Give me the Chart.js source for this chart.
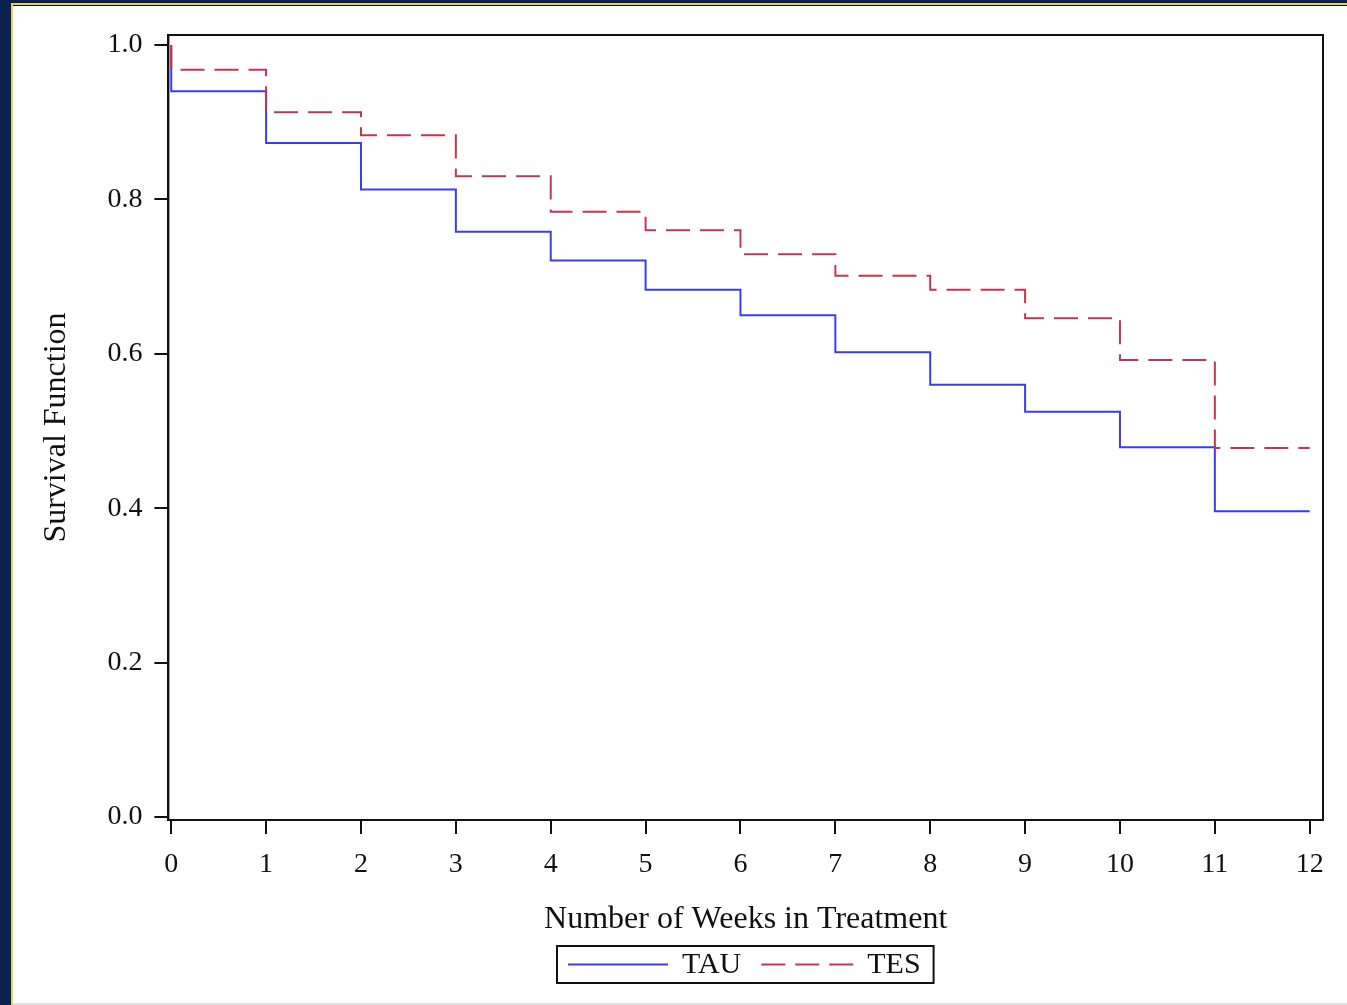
<!DOCTYPE html>
<html lang="en">
<head>
<meta charset="UTF-8">
<title>Survival Function</title>
<script src="https://cdn.jsdelivr.net/npm/chart.js@4.4.1/dist/chart.umd.min.js"></script>
<style>
    html, body { margin: 0; padding: 0; background: #fff; }
    #wrap { position: relative; width: 1347px; height: 1005px; overflow: hidden; }
    #chart-box { position: absolute; left: 0; top: 0; width: 1347px; height: 1005px; }
    .deco { position: absolute; z-index: 2; }
</style>
</head>
<body>
<div id="wrap">
    <div id="chart-box"><canvas id="surv"></canvas></div>
    <div class="deco" style="left:0;top:0;width:11px;height:1005px;background:#0b2150"></div>
    <div class="deco" style="left:11px;top:0;width:2px;height:1005px;background:#e6cf5a"></div>
    <div class="deco" style="left:0;top:0;width:1347px;height:3px;background:#0b2150"></div>
    <div class="deco" style="left:11px;top:3px;width:1336px;height:2px;background:#e6cf5a"></div>
    <div class="deco" style="left:13px;top:5px;width:1334px;height:1px;background:#111"></div>
    <div class="deco" style="left:13px;top:1003px;width:1334px;height:2px;background:#e2e2e2"></div>
</div>
<script>
    // survival estimate for each week interval [w, w+1)
    const weeks = [0, 1, 2, 3, 4, 5, 6, 7, 8, 9, 10, 11, 12];
    const tauSurv = [0.940, 0.873, 0.813, 0.758, 0.721, 0.683, 0.650, 0.602, 0.560, 0.525, 0.479, 0.396];
    const tesSurv = [0.968, 0.913, 0.883, 0.830, 0.784, 0.760, 0.729, 0.701, 0.683, 0.646, 0.592, 0.478];
    const yTicks = [0.0, 0.2, 0.4, 0.6, 0.8, 1.0];

    function stepPoints(vals) {
        const pts = [{x: weeks[0], y: 1.0}];
        vals.forEach((v, i) => pts.push({x: weeks[i], y: v}));
        pts.push({x: weeks[weeks.length - 1], y: vals[vals.length - 1]});
        return pts;
    }

    const serif = "'Liberation Serif', 'DejaVu Serif', serif";

    // box round the plot area
    const framePlugin = {
        id: 'frame',
        afterDraw(chart) {
            const a = chart.chartArea, ctx = chart.ctx;
            ctx.save();
            ctx.strokeStyle = '#111';
            ctx.lineWidth = 2;
            ctx.strokeRect(a.left, a.top, a.right - a.left, a.bottom - a.top);
            ctx.restore();
        }
    };

    // SAS style legend with a frame under the x axis title
    const legendPlugin = {
        id: 'boxLegend',
        afterDraw(chart) {
            const ctx = chart.ctx, a = chart.chartArea;
            ctx.save();
            ctx.font = '30px ' + serif;
            const sets = chart.data.datasets;
            const lineLen = [100, 92];
            const padL = 11, padR = 13, gapLine = 14, gapItem = 20;
            let total = padL + padR;
            sets.forEach((ds, i) => {
                total += lineLen[i] + gapLine + ctx.measureText(ds.label).width;
                if (i < sets.length - 1) total += gapItem;
            });
            const cx = (a.left + a.right) / 2;
            const top = 946, h = 37, midY = top + h / 2;
            let x = Math.round(cx - total / 2);
            ctx.lineWidth = 2;
            ctx.strokeStyle = '#111';
            ctx.strokeRect(x, top, total, h);
            x += padL;
            sets.forEach((ds, i) => {
                ctx.beginPath();
                ctx.strokeStyle = ds.borderColor;
                ctx.lineWidth = 2;
                ctx.setLineDash(ds.borderDash || []);
                ctx.moveTo(x, midY);
                ctx.lineTo(x + lineLen[i], midY);
                ctx.stroke();
                ctx.setLineDash([]);
                x += lineLen[i] + gapLine;
                ctx.fillStyle = '#111';
                ctx.textBaseline = 'middle';
                ctx.fillText(ds.label, x, midY + 1);
                x += ctx.measureText(ds.label).width + gapItem;
            });
            ctx.restore();
        }
    };

    new Chart(document.getElementById('surv'), {
        type: 'line',
        data: {
            datasets: [{
                label: 'TAU',
                data: stepPoints(tauSurv),
                borderColor: '#3c3cf0',
                borderWidth: 2,
                stepped: 'before',
                pointRadius: 0,
                fill: false,
                order: 1
            }, {
                label: 'TES',
                data: stepPoints(tesSurv),
                borderColor: '#c23650',
                borderWidth: 2,
                borderDash: [24, 10],
                stepped: 'before',
                pointRadius: 0,
                fill: false,
                order: 0
            }]
        },
        options: {
            responsive: true,
            maintainAspectRatio: false,
            animation: false,
            layout: { padding: { left: 31, right: 24, top: 35, bottom: 62 } },
            plugins: { legend: { display: false }, tooltip: { enabled: false } },
            scales: {
                x: {
                    type: 'linear',
                    min: -0.03,
                    max: 12.14,
                    afterBuildTicks: s => { s.ticks = weeks.map(v => ({value: v})); },
                    ticks: {
                        color: '#111',
                        font: { family: serif, size: 28 },
                        padding: 14,
                        maxRotation: 0,
                        callback: v => String(v)
                    },
                    grid: { drawOnChartArea: false, drawTicks: true, tickLength: 14, color: '#111', lineWidth: 2 },
                    border: { display: true, color: '#111', width: 2 },
                    title: {
                        display: true,
                        text: 'Number of Weeks in Treatment',
                        color: '#111',
                        font: { family: serif, size: 32 },
                        padding: { top: 5, bottom: 4 }
                    }
                },
                y: {
                    type: 'linear',
                    min: -0.004,
                    max: 1.013,
                    afterBuildTicks: s => { s.ticks = yTicks.map(v => ({value: v})); },
                    ticks: {
                        color: '#111',
                        font: { family: serif, size: 28 },
                        padding: 12,
                        callback: v => v.toFixed(1)
                    },
                    grid: { drawOnChartArea: false, drawTicks: true, tickLength: 14, color: '#111', lineWidth: 2 },
                    border: { display: true, color: '#111', width: 2 },
                    title: {
                        display: true,
                        text: 'Survival Function',
                        color: '#111',
                        font: { family: serif, size: 32 },
                        padding: { top: 6, bottom: 20 }
                    }
                }
            }
        },
        plugins: [framePlugin, legendPlugin]
    });
</script>
</body>
</html>
